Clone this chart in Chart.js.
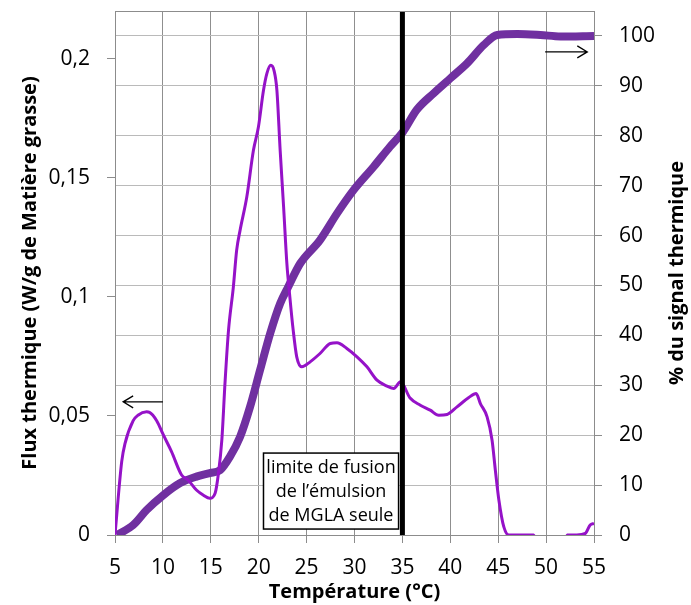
<!DOCTYPE html>
<html>
<head>
<meta charset="utf-8">
<script src="https://cdn.jsdelivr.net/npm/chart.js@4"></script>
<style>
  body { margin: 0; background: #fff; }
  #wrap { width: 691px; height: 605px; }
</style>
</head>
<body>
<div id="wrap"><canvas id="chart"></canvas></div>
<script>
// flux thermique (axe gauche)
const fluxTemp = [5, 5.7, 6.05, 6.9, 7.4, 8.3, 8.6, 9.35, 10.05, 10.9, 11.95, 12.65, 13.5, 14.2, 14.9, 15.45, 15.8, 16.15, 16.5, 16.85, 17.35, 17.7, 18.06, 18.76, 19.45, 19.97, 20.5, 20.85, 21.26, 21.6, 21.9, 22.24, 22.6, 22.94, 23.25, 23.6, 23.97, 24.5, 25.37, 26.4, 27.47, 28.17, 29.2, 30.26, 31.3, 32.35, 33.4, 34.1, 34.8, 35.8, 36.87, 37.9, 38.8, 39.66, 40.7, 41.9, 42.7, 43.14, 43.84, 44.36, 44.7, 45.07, 45.58, 46.1, 48.7, 49.0, 52.0, 52.2, 53.2, 54.1, 54.6, 55];
const fluxValues = [0, 0.0308, 0.0385, 0.048, 0.0503, 0.0517, 0.0515, 0.048, 0.042, 0.035, 0.0252, 0.023, 0.0189, 0.0168, 0.0154, 0.0175, 0.0259, 0.0398, 0.065, 0.086, 0.104, 0.1196, 0.128, 0.142, 0.1615, 0.1713, 0.1867, 0.1937, 0.1972, 0.195, 0.1867, 0.1615, 0.1377, 0.114, 0.1, 0.086, 0.0748, 0.0706, 0.0727, 0.0762, 0.0804, 0.0807, 0.0783, 0.0748, 0.0706, 0.065, 0.0625, 0.0615, 0.0643, 0.0575, 0.0545, 0.0524, 0.0503, 0.0506, 0.0538, 0.0576, 0.0594, 0.0552, 0.0496, 0.0398, 0.0273, 0.0147, 0.0035, 0, 0, -0.003, -0.003, 0, 0, 0.0007, 0.0042, 0.0049];

// % du signal thermique (axe droit)
const signalTemp = [5.2, 6.9, 8.3, 10.05, 11.8, 13.5, 14.9, 15.97, 17.0, 18.06, 19.1, 20.15, 21.2, 22.24, 23.1, 24.33, 26.4, 28.2, 29.9, 32.0, 33.7, 35.06, 36.5, 38.26, 40.0, 41.75, 43.5, 44.9, 47.0, 49.4, 51.5, 55];
const signalValues = [0, 2.0, 5.0, 8.0, 10.4, 11.7, 12.4, 13.0, 15.7, 19.7, 25.7, 33.1, 40.4, 46.4, 49.8, 54.4, 59.1, 64.5, 69.1, 73.8, 77.8, 80.8, 85.2, 88.5, 91.5, 94.5, 98.2, 100.2, 100.4, 100.2, 99.9, 100.0];

// limite de fusion
const limitTemp = [35, 35];
const limitFlux = [0, 0.22];

const boxLines = ['limite de fusion', 'de l\u2019émulsion', 'de MGLA seule'];

const fontName = '"Open Sans", sans-serif';
const axisColor = '#8c8c8c';

function toPoints(xs, ys) {
    return xs.map((x, i) => ({ x: x, y: ys[i] }));
}

function fmtComma(v) {
    if (v === 0) return '0';
    return String(Math.round(v * 100) / 100).replace('.', ',');
}

// cadre du haut, encadré de texte, flèches, titre droit
const extrasPlugin = {
    id: 'extras',
    afterDatasetsDraw(chart) {
        const ctx = chart.ctx;
        const a = chart.chartArea;
        const x = chart.scales.x;
        const yl = chart.scales.y;
        const yr = chart.scales.y2;
        ctx.save();

        // top border
        ctx.strokeStyle = axisColor;
        ctx.lineWidth = 1;
        ctx.beginPath();
        ctx.moveTo(a.left, a.top + 0.5);
        ctx.lineTo(a.right, a.top + 0.5);
        ctx.stroke();

        // text box
        const bx1 = x.getPixelForValue(20.5), bx2 = x.getPixelForValue(34.6);
        const by1 = yl.getPixelForValue(0.0344), by2 = yl.getPixelForValue(0.0025);
        ctx.fillStyle = '#fff';
        ctx.fillRect(bx1, by1, bx2 - bx1, by2 - by1);
        ctx.strokeStyle = '#000';
        ctx.lineWidth = 1.5;
        ctx.strokeRect(bx1, by1, bx2 - bx1, by2 - by1);
        ctx.fillStyle = '#000';
        ctx.font = '18px ' + fontName;
        ctx.textAlign = 'center';
        ctx.textBaseline = 'middle';
        const cx = (bx1 + bx2) / 2;
        boxLines.forEach((t, i) => {
            ctx.fillText(t, cx, by1 + 15 + i * 24);
        });

        // arrows
        function arrow(xFrom, xTo, yPix) {
            const dir = xTo > xFrom ? 1 : -1;
            ctx.strokeStyle = '#000';
            ctx.lineWidth = 1.3;
            ctx.beginPath();
            ctx.moveTo(xFrom, yPix);
            ctx.lineTo(xTo, yPix);
            ctx.moveTo(xTo - dir * 10, yPix - 6);
            ctx.lineTo(xTo, yPix);
            ctx.lineTo(xTo - dir * 10, yPix + 6);
            ctx.stroke();
        }
        arrow(x.getPixelForValue(10), x.getPixelForValue(5.85), yl.getPixelForValue(0.0559));
        arrow(x.getPixelForValue(49.9), x.getPixelForValue(54.3), yr.getPixelForValue(96.8));

        // right title (bottom to top)
        ctx.translate(677, (a.top + a.bottom) / 2);
        ctx.rotate(-Math.PI / 2);
        ctx.font = 'bold 20px ' + fontName;
        ctx.fillStyle = '#000';
        ctx.textAlign = 'center';
        ctx.textBaseline = 'middle';
        ctx.fillText('% du signal thermique', 0, 0);
        ctx.restore();
    }
};

function fitVertical(width) {
    return s => {
        s.width = width;
        s.paddingTop = 0;
        s.paddingBottom = 0;
    };
}

const chart = new Chart(document.getElementById('chart').getContext('2d'), {
    type: 'scatter',
    data: {
        datasets: [
            {
                label: 'limite',
                data: toPoints(limitTemp, limitFlux),
                yAxisID: 'y',
                showLine: true,
                borderColor: '#000',
                borderWidth: 5,
                pointRadius: 0,
                order: 0
            },
            {
                label: 'Flux thermique',
                data: toPoints(fluxTemp, fluxValues),
                yAxisID: 'y',
                showLine: true,
                borderColor: '#9512c8',
                borderWidth: 3,
                pointRadius: 0,
                cubicInterpolationMode: 'monotone',
                order: 1
            },
            {
                label: '% du signal thermique',
                data: toPoints(signalTemp, signalValues),
                yAxisID: 'y2',
                showLine: true,
                borderColor: '#7030a0',
                borderWidth: 8,
                pointRadius: 0,
                cubicInterpolationMode: 'monotone',
                order: 2
            }
        ]
    },
    options: {
        responsive: true,
        maintainAspectRatio: false,
        animation: false,
        layout: { padding: { left: 0, top: 11, right: 0, bottom: 0 } },
        plugins: { legend: { display: false }, tooltip: { enabled: false } },
        scales: {
            x: {
                type: 'linear',
                min: 5,
                max: 55,
                afterFit: s => { s.height = 70; s.paddingLeft = 0; s.paddingRight = 0; },
                ticks: { stepSize: 5, padding: 12, color: '#000', font: { family: fontName, size: 21 } },
                grid: { color: '#8f8f8f', tickLength: 8, tickColor: axisColor },
                border: { color: axisColor },
                title: { display: true, text: 'Température (°C)', color: '#000', padding: { top: 0, bottom: 1 }, font: { family: fontName, size: 20, weight: 'bold' } }
            },
            y: {
                position: 'left',
                min: 0,
                max: 0.22,
                afterFit: fitVertical(115),
                afterBuildTicks: s => { s.ticks = s.ticks.filter(t => t.value <= 0.2001); },
                ticks: { stepSize: 0.05, padding: 17, color: '#000', font: { family: fontName, size: 21 }, callback: v => fmtComma(v) },
                grid: { drawOnChartArea: false, tickLength: 8, tickColor: axisColor },
                border: { color: axisColor },
                title: { display: true, text: 'Flux thermique (W/g de Matière grasse)', color: '#000', padding: { top: 18, bottom: 0 }, font: { family: fontName, size: 20, weight: 'bold' } }
            },
            y2: {
                position: 'right',
                min: 0,
                max: 105,
                afterFit: fitVertical(97),
                afterBuildTicks: s => { s.ticks = s.ticks.filter(t => t.value <= 100); },
                ticks: { stepSize: 10, padding: 17, color: '#000', font: { family: fontName, size: 21 } },
                grid: { color: '#bababa', tickLength: 8, tickColor: axisColor },
                border: { color: axisColor }
            }
        }
    },
    plugins: [extrasPlugin]
});
</script>
</body>
</html>
